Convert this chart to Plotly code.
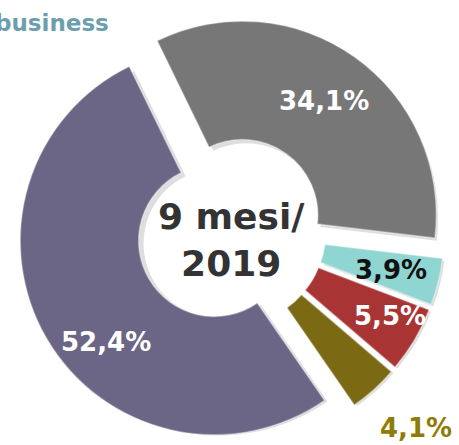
import plotly.graph_objects as go

# Share of the period by business line (percent)
segments = ["Grigio", "Turchese", "Rosso", "Oliva", "Viola"]
shares = [34.1, 3.9, 5.5, 4.1, 52.4]
slice_colors = ["#777777", "#8fd5d1", "#a93434", "#7b6913", "#6b6686"]
label_colors = ["#ffffff", "#111111", "#ffffff", "#8f7c05", "#ffffff"]
center_lines = ["9 mesi/", "2019"]
title_text = "business"

W, H = 459, 445
FONT = "DejaVu Sans"

# pie box placed in pixels, converted to paper fractions
PULL = 0.1
R = 194
cx, cy = 231, 231
half = R * (1 + PULL)
dom_x = [(cx - half) / W, (cx + half) / W]
dom_y = [max(0.0, 1 - (cy + half) / H), 1 - (cy - half) / H]

fig = go.Figure()

# soft drop shadow under the exploded ring
sx, sy = 4, 5
fig.add_trace(go.Pie(
    labels=segments, values=shares, sort=False, direction="clockwise",
    rotation=-26, hole=0.39, pull=[PULL] * len(shares),
    marker=dict(colors=["rgba(0,0,0,0.13)"] * len(shares)),
    textinfo="none", hoverinfo="skip", showlegend=False,
    domain=dict(x=[dom_x[0] + sx / W, dom_x[1] + sx / W],
                y=[max(0.0, dom_y[0] - sy / H), dom_y[1] - sy / H]),
))

fig.add_trace(go.Pie(
    labels=segments, values=shares, sort=False, direction="clockwise",
    rotation=-26, hole=0.39, pull=[PULL] * len(shares),
    marker=dict(colors=slice_colors, line=dict(color="rgba(255,255,255,0.35)", width=1.5)),
    textinfo="none", showlegend=False,
    domain=dict(x=dom_x, y=dom_y),
))

# value labels (pixel anchor points for each slice label)
label_px = [(324, 101), (391, 270), (390, 316), (416, 428), (106, 342)]
for val, col, (px, py) in zip(shares, label_colors, label_px):
    fig.add_annotation(
        x=px / W, y=1 - py / H, xref="paper", yref="paper",
        text=f"{val:.1f}%".replace(".", ","), showarrow=False,
        font=dict(family=FONT, size=26, color=col, weight="bold"),
        xanchor="center", yanchor="middle",
    )

fig.add_annotation(
    x=231 / W, y=1 - 240 / H, xref="paper", yref="paper",
    text="<br>".join(center_lines), showarrow=False,
    font=dict(family=FONT, size=36, color="#333333", weight="bold"),
    xanchor="center", yanchor="middle",
)

fig.add_annotation(
    x=-7 / W, y=1 - 23 / H, xref="paper", yref="paper",
    text=title_text, showarrow=False,
    font=dict(family=FONT, size=23, color="#6c9fae", weight="bold"),
    xanchor="left", yanchor="middle",
)

fig.update_layout(
    width=W, height=H, margin=dict(l=0, r=0, t=0, b=0),
    paper_bgcolor="white", plot_bgcolor="white",
    separators=",.",
)

fig.write_html("out.html")
